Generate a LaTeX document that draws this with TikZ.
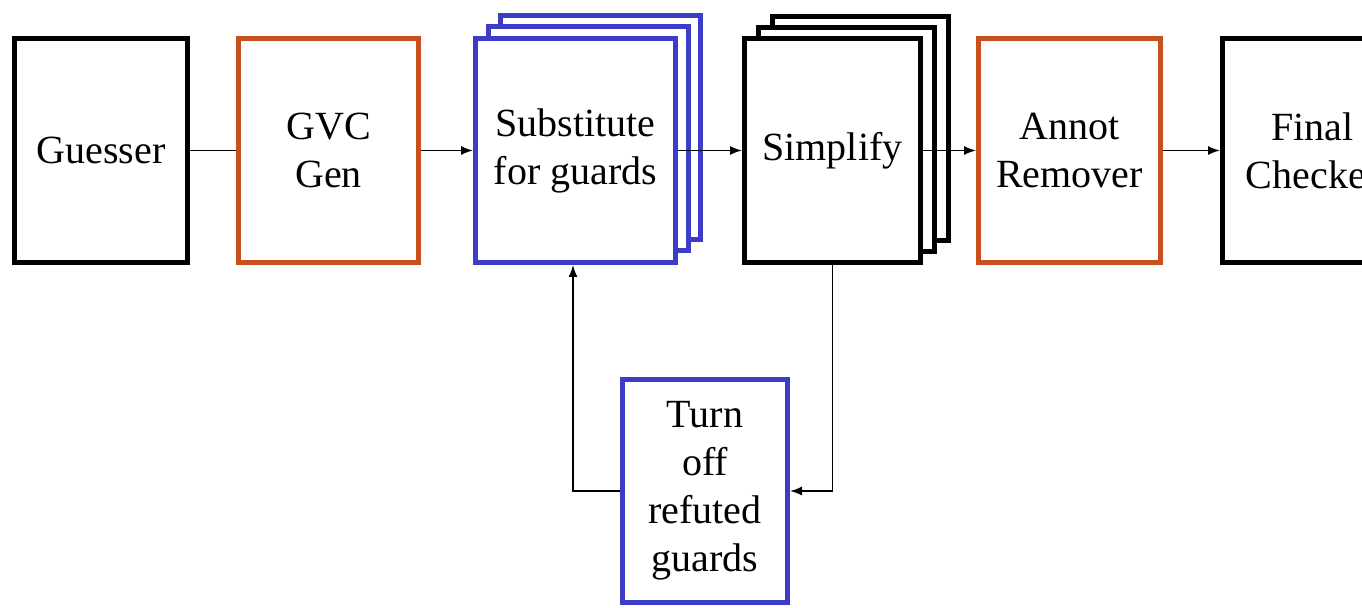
\documentclass[tikz,border=0pt]{standalone}
\usepackage{fontspec}
\setmainfont{Liberation Serif}
\usetikzlibrary{arrows.meta}
\definecolor{rust}{RGB}{200,80,30}
\definecolor{guardblue}{RGB}{60,60,200}

\begin{document}
\begin{tikzpicture}[x=0.5pt, y=-0.5pt,
  stage/.style = {draw, line width=2.5pt, fill=white, align=center,
    minimum height=112pt, inner sep=0pt, font=\fontsize{20}{24}\selectfont},
  blackbox/.style = {stage, draw=black},
  rustbox/.style = {stage, draw=rust},
  bluebox/.style = {stage, draw=guardblue},
  wire/.style = {line width=0.75pt},
  flow/.style = {wire, -{Latex[length=6pt,width=4.5pt]}},
  ]
  \clip (0,0) rectangle (1362,608);
  % stacked copies behind
  \foreach \i in {2,1} {
    \node[bluebox, minimum width=100pt] at (575.5+12.5*\i, 150.5-11.5*\i) {};
    \node[blackbox, minimum width=88pt] at (832.5+14*\i, 150.5-11*\i) {};
  }
  \node[blackbox, minimum width=86.5pt] (guesser) at (101,150.5) {Guesser};
  \node[rustbox, minimum width=90pt] (gvc) at (328.5,150.5) {GVC\\Gen};
  \node[bluebox, minimum width=100pt] (subst) at (575.5,150.5) {Substitute\\for guards};
  \node[blackbox, minimum width=88pt] (simp) at (832.5,150.5) {Simplify};
  \node[rustbox, minimum width=91pt] (annot) at (1069.5,150.5) {Annot\\Remover};
  \node[blackbox, minimum width=90pt] (final) at (1312.5,150.5) {Final\\Checker};
  \node[bluebox, minimum width=82.5pt, minimum height=111.5pt] (turnoff) at (705,491)
    {Turn\\off\\refuted\\guards};

  \draw[wire] (guesser) -- (gvc);
  \draw[flow] (gvc) -- (subst);
  \draw[flow] (subst) -- (simp);
  \draw[flow] (simp) -- (annot);
  \draw[flow] (annot) -- (final);
  \draw[flow] (simp.south) |- (turnoff.east);
  \draw[flow] (turnoff.west) -| ([xshift=-1.25pt]subst.south);
\end{tikzpicture}
\end{document}
